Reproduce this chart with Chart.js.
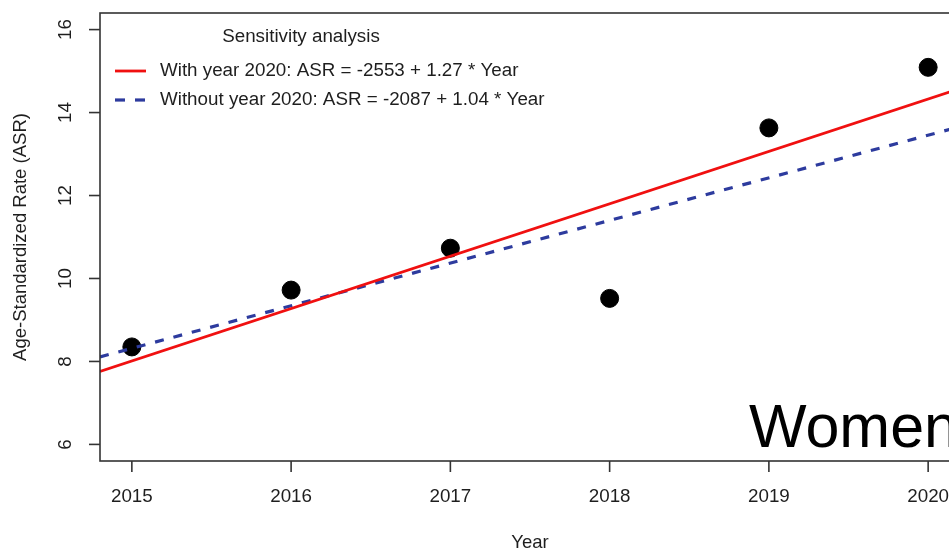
<!DOCTYPE html>
<html lang="en">

<head>
    <meta charset="UTF-8">
    <title>Sensitivity analysis - Women</title>
    <script src="https://cdn.jsdelivr.net/npm/chart.js"></script>
    <style>
        html, body {
            margin: 0;
            padding: 0;
            background: #fff;
            overflow: hidden;
        }

        #chart {
            display: block;
        }
    </style>
</head>

<body>
    <canvas id="chart" width="1000" height="551"></canvas>

    <script>
        // observed age-standardized rates
        var years = [2015, 2016, 2017, 2018, 2019, 2020];
        var asr = [8.35, 9.72, 10.73, 9.52, 13.63, 15.09];

        // fitted lines, evaluated at the ends of the x range
        var fitYears = [2014.8, 2020.2];
        var fitWith2020 = [7.76, 14.58];
        var fitWithout2020 = [8.11, 13.66];

        var xTicks = [2015, 2016, 2017, 2018, 2019, 2020];
        var yTicks = [6, 8, 10, 12, 14, 16];

        var legendTitle = 'Sensitivity analysis';
        var legendLabels = [
            'With year 2020: ASR = -2553 + 1.27 * Year',
            'Without year 2020: ASR = -2087 + 1.04 * Year'
        ];
        var panelLabel = 'Women';

        var RED = '#f01010';
        var BLUE = '#2d3b9e';
        var INK = '#1e1e1e';
        var FONT = '"Liberation Sans", Arial, sans-serif';

        function toPoints(xs, ys) {
            return xs.map(function (x, i) { return { x: x, y: ys[i] }; });
        }

        // R style axes, box, legend and panel label
        var baseGraphics = {
            id: 'baseGraphics',
            afterDraw: function (chart) {
                var ctx = chart.ctx;
                var a = chart.chartArea;
                var xs = chart.scales.x;
                var ys = chart.scales.y;

                ctx.save();
                ctx.strokeStyle = '#333';
                ctx.lineWidth = 1.6;
                ctx.strokeRect(a.left, a.top, a.right - a.left, a.bottom - a.top);

                ctx.fillStyle = INK;
                ctx.font = '18.8px ' + FONT;

                // x axis
                ctx.textAlign = 'center';
                ctx.textBaseline = 'middle';
                xTicks.forEach(function (t) {
                    var px = xs.getPixelForValue(t);
                    ctx.beginPath();
                    ctx.moveTo(px, a.bottom);
                    ctx.lineTo(px, a.bottom + 11);
                    ctx.stroke();
                    ctx.fillText(String(t), px, a.bottom + 36);
                });

                // y axis, labels parallel to the axis
                yTicks.forEach(function (t) {
                    var py = ys.getPixelForValue(t);
                    ctx.beginPath();
                    ctx.moveTo(a.left, py);
                    ctx.lineTo(a.left - 11, py);
                    ctx.stroke();
                    ctx.save();
                    ctx.translate(a.left - 34, py);
                    ctx.rotate(-Math.PI / 2);
                    ctx.fillText(String(t), 0, 0);
                    ctx.restore();
                });

                // axis titles
                ctx.font = '18.5px ' + FONT;
                ctx.fillText('Year', (a.left + 960) / 2, a.bottom + 82);
                ctx.save();
                ctx.translate(21, (a.top + a.bottom) / 2);
                ctx.rotate(-Math.PI / 2);
                ctx.fillText('Age-Standardized Rate (ASR)', 0, 0);
                ctx.restore();

                // legend
                ctx.font = '18.8px ' + FONT;
                ctx.fillText(legendTitle, 301, 37);
                ctx.textAlign = 'left';
                var rows = [
                    { y: 71, color: RED, width: 2.8, dash: [] },
                    { y: 100, color: BLUE, width: 3.2, dash: [10, 10] }
                ];
                rows.forEach(function (r, i) {
                    ctx.save();
                    ctx.strokeStyle = r.color;
                    ctx.lineWidth = r.width;
                    ctx.setLineDash(r.dash);
                    ctx.beginPath();
                    ctx.moveTo(115, r.y);
                    ctx.lineTo(146, r.y);
                    ctx.stroke();
                    ctx.restore();
                    ctx.fillText(legendLabels[i], 160, r.y);
                });

                // panel label
                ctx.fillStyle = '#000';
                ctx.font = '61px ' + FONT;
                ctx.textAlign = 'right';
                ctx.textBaseline = 'alphabetic';
                ctx.fillText(panelLabel, 958, 447);
                ctx.restore();
            }
        };

        var ctx = document.getElementById('chart').getContext('2d');
        var chart = new Chart(ctx, {
            type: 'scatter',
            data: {
                datasets: [{
                    label: 'With year 2020',
                    type: 'line',
                    data: toPoints(fitYears, fitWith2020),
                    borderColor: RED,
                    borderWidth: 2.8,
                    pointRadius: 0,
                    fill: false
                }, {
                    label: 'Without year 2020',
                    type: 'line',
                    data: toPoints(fitYears, fitWithout2020),
                    borderColor: BLUE,
                    borderWidth: 3.2,
                    borderDash: [9, 10],
                    pointRadius: 0,
                    fill: false
                }, {
                    label: 'ASR',
                    data: toPoints(years, asr),
                    backgroundColor: '#000',
                    borderColor: '#000',
                    pointRadius: 9,
                    pointHoverRadius: 9
                }]
            },
            options: {
                responsive: false,
                animation: false,
                layout: {
                    padding: { left: 100, top: 13, right: 40, bottom: 90 }
                },
                scales: {
                    x: { type: 'linear', min: 2014.8, max: 2020.2, display: false },
                    y: { type: 'linear', min: 5.6, max: 16.4, display: false }
                },
                plugins: {
                    legend: { display: false },
                    tooltip: { enabled: false }
                }
            },
            plugins: [baseGraphics]
        });
    </script>

</body>

</html>
